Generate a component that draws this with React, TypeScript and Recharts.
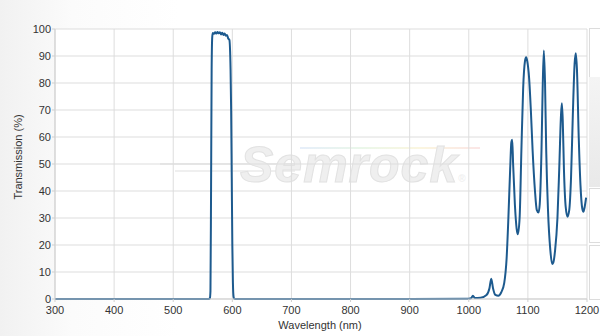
import React from 'react'
import { LineChart, Line, XAxis, YAxis, CartesianGrid } from 'recharts'

const wavelength = [
  300, 400, 500, 560, 562, 563, 564, 565, 566, 567, 569, 571, 573, 575, 577, 579, 581, 583, 585, 587,
  589, 591, 593, 595, 597, 598, 599, 600, 601, 602, 603, 605, 700, 800, 900, 1000, 1004, 1007, 1010,
  1020, 1030, 1035, 1038, 1041, 1045, 1050, 1055, 1060, 1064, 1067, 1070, 1072, 1073.5, 1075, 1078,
  1081, 1083, 1086, 1089, 1092, 1095, 1097, 1099, 1102, 1105, 1108, 1112, 1115, 1118, 1120, 1123,
  1125, 1127, 1129, 1131, 1134, 1138, 1141, 1143, 1146, 1150, 1153, 1156, 1157.5, 1159, 1161, 1164,
  1167, 1170, 1173, 1176, 1179, 1181, 1183, 1186, 1189, 1192, 1194, 1196, 1198.5,
]
const transmission = [
  0, 0, 0, 0, 0.3, 3, 40, 85, 97, 98.5, 98.2, 98.8, 98.3, 98.9, 98.4, 98.8, 98.0, 98.6, 97.8, 98.3,
  97.5, 97.8, 96.5, 96, 85, 70, 45, 20, 6, 1, 0.2, 0, 0, 0, 0, 0.1, 0.3, 1.2, 0.4,
  0.5, 1.5, 4, 7.5, 4, 1.5, 1.2, 2.5, 6, 15, 30, 48, 58, 59, 50, 35,
  26, 24, 30, 55, 78, 88, 89.5, 88, 82, 70, 55, 40, 33, 32, 35, 55,
  78, 92, 80, 55, 33, 18, 13, 13.5, 18, 30, 48, 68, 72.5, 66, 48, 34,
  30.5, 33, 45, 68, 87, 91, 85, 60, 42, 33.5, 32.3, 34, 37.5,
]
const xTicks = [300, 400, 500, 600, 700, 800, 900, 1000, 1100, 1200]
const yTicks = [0, 10, 20, 30, 40, 50, 60, 70, 80, 90, 100]

const data = wavelength.map((w, i) => ({ w, t: transmission[i] }))

const tickStyle = { fontSize: 11, fill: '#333', fontFamily: 'Liberation Sans, Arial, sans-serif' }

export default function App() {
  return (
    <div
      style={{
        position: 'fixed',
        left: 0,
        top: 0,
        width: 600,
        height: 336,
        overflow: 'hidden',
        background: 'linear-gradient(to right, #f1f1f1 0%, #fbfbfb 12%, #ffffff 30%)',
        fontFamily: 'Liberation Sans, Arial, sans-serif',
      }}
    >
      {/* plot background */}
      <div style={{ position: 'absolute', left: 55, top: 29, width: 532, height: 270, background: '#fff' }} />

      {/* watermark */}
      <div style={{ position: 'absolute', left: 160, top: 163, width: 140, height: 2, background: '#ececec' }} />
      <div style={{ position: 'absolute', left: 175, top: 170, width: 120, height: 2, background: '#efefef' }} />
      <div
        style={{
          position: 'absolute',
          left: 300,
          top: 147,
          width: 180,
          height: 2,
          background: 'linear-gradient(to right, #e6eefa, #eaf7ea, #fbf6e0, #fbe6e6)',
        }}
      />
      <div
        style={{
          position: 'absolute',
          left: 240,
          top: 140,
          fontSize: 50,
          fontWeight: 'bold',
          fontStyle: 'italic',
          letterSpacing: 1,
          color: '#efefef',
          WebkitTextStroke: '1px #e2e2e2',
          lineHeight: '50px',
        }}
      >
        Semrock<span style={{ fontSize: 10, fontStyle: 'normal', WebkitTextStroke: '0' }}>®</span>
      </div>

      {/* cut-off side panels */}
      <div style={{ position: 'absolute', left: 589, top: 28, width: 20, height: 48, background: '#fff', border: '1px solid #dcdcdc' }} />
      <div style={{ position: 'absolute', left: 589, top: 77, width: 20, height: 110, background: 'linear-gradient(#f4f4f4, #e9e9e9)' }} />
      <div style={{ position: 'absolute', left: 589, top: 188, width: 20, height: 53, background: '#fff', border: '1px solid #dcdcdc' }} />
      <div style={{ position: 'absolute', left: 589, top: 245, width: 20, height: 53, background: '#fff', border: '1px solid #dcdcdc' }} />

      <div style={{ position: 'absolute', left: 0, top: 0 }}>
        <LineChart width={600} height={336} data={data} margin={{ top: 29, right: 13, bottom: 0, left: 0 }}>
          <CartesianGrid stroke="#dddddd" />
          <XAxis
            dataKey="w"
            type="number"
            domain={[300, 1200]}
            ticks={xTicks}
            allowDataOverflow
            height={37}
            tick={tickStyle}
            tickSize={3}
            tickMargin={4}
            stroke="#cfcfcf"
          />
          <YAxis
            domain={[0, 100]}
            ticks={yTicks}
            width={55}
            tick={tickStyle}
            tickSize={3}
            tickMargin={1}
            stroke="#cfcfcf"
          />
          <Line
            type="monotone"
            dataKey="t"
            stroke="#1d5a8e"
            strokeWidth={2}
            dot={false}
            isAnimationActive={false}
          />
        </LineChart>
      </div>

      <div style={{ position: 'absolute', left: 270, top: 319, width: 100, textAlign: 'center', fontSize: 11, color: '#333' }}>
        Wavelength (nm)
      </div>
      <div
        style={{
          position: 'absolute',
          left: 18,
          top: 157,
          fontSize: 11,
          color: '#333',
          whiteSpace: 'nowrap',
          transform: 'translate(-50%, -50%) rotate(-90deg)',
        }}
      >
        Transmission (%)
      </div>
    </div>
  )
}
